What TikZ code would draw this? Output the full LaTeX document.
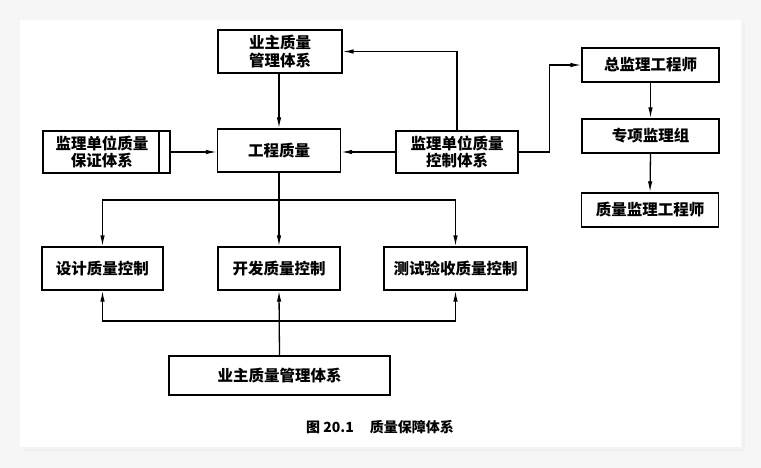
\documentclass[tikz,border=0pt]{standalone}
\usepackage{fontspec}
\setmainfont{Liberation Serif}
\newfontfamily\cjk{Noto Sans CJK SC}
\usetikzlibrary{arrows.meta,calc}
\tikzset{
  box/.style={draw=black, line width=1.3pt, fill=white, inner sep=0pt, align=center,
    font=\cjk\bfseries\fontsize{15.5}{17.5}\selectfont},
  txt/.style={inner sep=0pt, align=center, font=\cjk\bfseries\fontsize{15.5}{17.5}\selectfont},
  arr/.style={line width=1.3pt, -{Latex[length=11pt,width=4.5pt]}},
  ln/.style={line width=1.3pt},
}
\begin{document}
\begin{tikzpicture}[x=1pt,y=-1pt]
\useasboundingbox (0,0) rectangle (761,468);
\fill[gray!7] (0,0) rectangle (761,468);
\fill[gray!12] (23,23) rectangle (745,451);
\fill[gray!9] (21,21) rectangle (743,449);
\fill[white] (20,20) rectangle (741,447);

\node[box, minimum width=124pt, minimum height=43pt] (top) at (280,51.5) {业主质量\\管理体系};
\node[box, minimum width=127pt, minimum height=42pt] (guar) at (106.5,152) {};
\draw[ln] (159,131) -- (159,173);
\node[txt] (guartxt) at (102,152) {监理单位质量\\保证体系};
\node[box, minimum width=123pt, minimum height=43pt] (gc) at (279,150.5) {工程质量};
\node[box, minimum width=122pt, minimum height=42pt] (ctrl) at (457,152) {监理单位质量\\控制体系};
\node[box, minimum width=137pt, minimum height=34pt] (zj) at (650.5,65) {总监理工程师};
\node[box, minimum width=137pt, minimum height=34pt] (zx) at (650.5,136) {专项监理组};
\node[box, minimum width=137pt, minimum height=34pt] (zl) at (650,210) {质量监理工程师};
\node[box, minimum width=121pt, minimum height=43pt] (sj) at (102.5,268.5) {设计质量控制};
\node[box, minimum width=122pt, minimum height=43pt] (kf) at (279,268.5) {开发质量控制};
\node[box, minimum width=143pt, minimum height=43pt] (cs) at (455.5,268.5) {测试验收质量控制};
\node[box, minimum width=221pt, minimum height=39pt] (bot) at (279.5,375.5) {业主质量管理体系};
\node[font=\cjk\bfseries\fontsize{14}{16}\selectfont] (cap) at (380,427) {图 20.1\hspace{16pt}质量保障体系};

\draw[arr] (top.south -| gc.north) -- (gc.north);
\draw[arr] (guar.east) -- (gc.west |- guar.east);
\draw[arr] (ctrl.west) -- (gc.east |- ctrl.west);
\draw[arr] (ctrl.north) |- (top.east);
\draw[arr] (ctrl.east) -- ++(31,0) |- (zj.west);
\draw[arr] (zj.south) -- (zx.north);
\draw[arr] (zx.south) -- (zl.north);

\coordinate (b1) at (279,200);
\coordinate (b2) at (279,321);
\draw[arr] (gc.south) -- (kf.north);
\draw[arr] (b1) -| (sj.north);
\draw[arr] (b1) -| (cs.north);
\draw[arr] (bot.north) -- (kf.south);
\draw[arr] (b2) -| (sj.south);
\draw[arr] (b2) -| (cs.south);
\end{tikzpicture}
\end{document}
